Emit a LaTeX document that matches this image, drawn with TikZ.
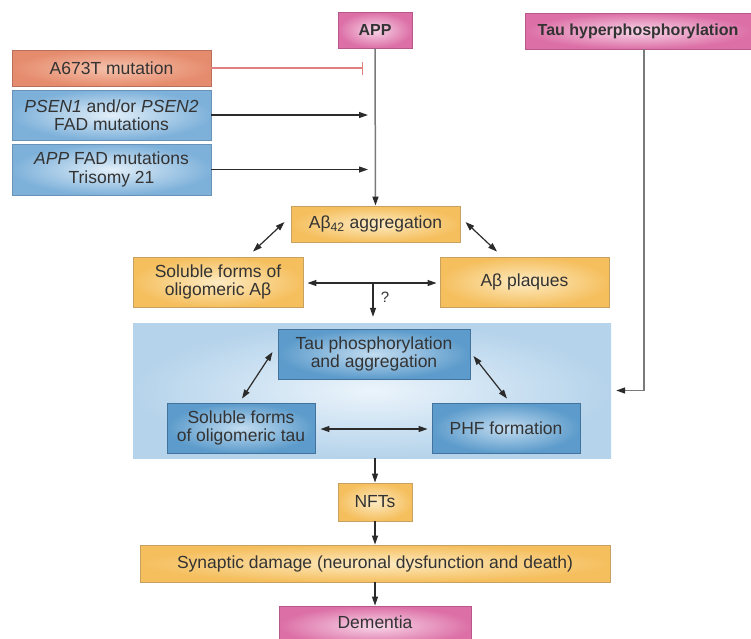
\documentclass[tikz,border=0pt]{standalone}
\usepackage{fontspec}
\setmainfont{Liberation Sans}
\usetikzlibrary{arrows.meta,calc}
\definecolor{txt}{HTML}{333333}
\definecolor{pinkO}{HTML}{DC6FA6}\definecolor{pinkI}{HTML}{F8D6E8}\definecolor{pinkB}{HTML}{B8578A}
\definecolor{oraO}{HTML}{E68C6E}\definecolor{oraI}{HTML}{F5C2AC}\definecolor{oraB}{HTML}{B8705A}
\definecolor{lbO}{HTML}{7EB1DA}\definecolor{lbI}{HTML}{E2EFF9}\definecolor{lbB}{HTML}{6892B8}
\definecolor{yeO}{HTML}{F5BF5E}\definecolor{yeI}{HTML}{FDEBC2}\definecolor{yeB}{HTML}{C8A060}
\definecolor{paO}{HTML}{B5D3EB}\definecolor{paI}{HTML}{EBF4FB}
\definecolor{dbO}{HTML}{5C9BCB}\definecolor{dbI}{HTML}{C2DCF0}\definecolor{dbB}{HTML}{41739D}
\definecolor{arrc}{HTML}{2B2B2B}
\definecolor{grayl}{HTML}{7A7A7A}
\definecolor{redl}{HTML}{E07F7F}
\begin{document}
\begin{tikzpicture}[x=1pt,y=-1pt,
  box/.style={rectangle, inner sep=0pt, align=center, text=txt, line width=0.9pt,
    font=\fontsize{17.5}{18.5}\selectfont},
  pinkbox/.style={box, shade, inner color=pinkI, outer color=pinkO, draw=pinkB,
    font=\fontsize{16}{18}\selectfont\bfseries},
  orabox/.style={box, shade, inner color=oraI, outer color=oraO, draw=oraB},
  lbbox/.style={box, shade, inner color=lbI, outer color=lbO, draw=lbB},
  yebox/.style={box, shade, inner color=yeI, outer color=yeO, draw=yeB},
  dbbox/.style={box, shade, inner color=dbI, outer color=dbO, draw=dbB},
  panelbox/.style={rectangle, inner sep=0pt, shade, inner color=paI, outer color=paO},
  arr/.style={draw=arrc, line width=1.2pt, -{Triangle[length=9pt,width=6pt]}},
  dbl/.style={draw=arrc, line width=1.2pt, {Triangle[length=9pt,width=6pt]}-{Triangle[length=9pt,width=6pt]}},
  grayarr/.style={draw=grayl, line width=1.5pt, -{Triangle[length=9pt,width=6pt,color=arrc]}},
  inhib/.style={draw=redl, line width=1.3pt, -{Bar[width=13pt,line width=1.3pt]}},
  lbl/.style={text=txt, font=\fontsize{15}{16}\selectfont, inner sep=0pt}
]
\useasboundingbox (0,0) rectangle (751,638);

% panel (background)
\node[panelbox, minimum width=478pt, minimum height=135pt] (panel) at (372,390.5) {};

% top boxes
\node[pinkbox, minimum width=74pt, minimum height=36pt] (app) at (375,30) {APP};
\node[pinkbox, minimum width=226pt, minimum height=36pt] (tau) at (638,31) {Tau hyperphosphorylation};

% left boxes
\node[orabox, minimum width=199pt, minimum height=36pt] (a673) at (111.5,68) {A673T mutation};
\node[lbbox, minimum width=199pt, minimum height=50pt] (psen) at (111.5,115) {\textit{PSEN1} and/or \textit{PSEN2}\\FAD mutations};
\node[lbbox, minimum width=199pt, minimum height=51pt] (appfad) at (111.5,169.5) {\textit{APP} FAD mutations\\Trisomy 21};

% amyloid boxes
\node[yebox, minimum width=169pt, minimum height=36pt] (abagg) at (375.5,224) {Aβ\textsubscript{42} aggregation};
\node[yebox, minimum width=170pt, minimum height=50pt] (solab) at (218,282) {Soluble forms of\\oligomeric Aβ};
\node[yebox, minimum width=169pt, minimum height=50pt] (plaq) at (524.5,282) {Aβ plaques};

% tau boxes
\node[dbbox, minimum width=192pt, minimum height=50pt] (taupa) at (374,354) {Tau phosphorylation\\and aggregation};
\node[dbbox, minimum width=148pt, minimum height=50pt] (soltau) at (241,428) {Soluble forms\\of oligomeric tau};
\node[dbbox, minimum width=148pt, minimum height=50pt] (phf) at (506,428) {PHF formation};

% bottom boxes
\node[yebox, minimum width=74pt, minimum height=38pt] (nfts) at (375,502) {NFTs};
\node[yebox, minimum width=470pt, minimum height=37pt] (syn) at (375,563.5) {Synaptic damage (neuronal dysfunction and death)};
\node[box, shade, inner color=pinkI, outer color=pinkO, draw=pinkB, minimum width=192pt, minimum height=40pt] (dem) at (375,626) {};
\node[text=txt, font=\fontsize{17.5}{18.5}\selectfont, inner sep=0pt] (demtxt) at (375,622) {Dementia};

% connectors at top
\draw[inhib, shorten >=12pt] (a673.east) -- (a673.east -| app.south);
\draw[arr, shorten >=7pt] (psen.east) -- (psen.east -| app.south);
\draw[arr, shorten >=7pt] (appfad.east) -- (appfad.east -| app.south);
\draw[grayarr] (app.south) -- (abagg.north);

% amyloid connectors
\draw[dbl] ([xshift=-6pt,yshift=2pt]abagg.west) -- ([xshift=35pt,yshift=5pt]solab.north);
\draw[dbl] ([xshift=5pt,yshift=2pt]abagg.east) -- ([xshift=-27.5pt,yshift=5pt]plaq.north);
\draw[dbl, shorten <=4pt, shorten >=3pt] ([yshift=-1pt]solab.east) -- ([yshift=-1pt]plaq.west);
\coordinate (mid) at (373,283);
\draw[arr, shorten >=6pt] (mid) -- (mid |- panel.north);
\node[lbl] (q) at (385,297) {?};

% tau connectors
\draw[dbl] ([xshift=-5pt,yshift=2pt]taupa.west) -- ([xshift=1pt,yshift=4pt]soltau.north);
\draw[dbl] ([xshift=3pt,yshift=-2pt]taupa.east) -- ([xshift=1pt,yshift=4pt]phf.north);
\draw[dbl, shorten <=5pt, shorten >=4pt] ([yshift=-1pt]soltau.east) -- ([yshift=-1pt]phf.west);
\draw[grayarr] ([xshift=6pt]tau.south) |- ([xshift=5pt]panel.east);

% bottom connectors
\draw[arr] (panel.south -| nfts.north) -- (nfts.north);
\draw[arr] (nfts.south) -- (syn.north);
\draw[arr] (syn.south) -- (dem.north);
\end{tikzpicture}
\end{document}
